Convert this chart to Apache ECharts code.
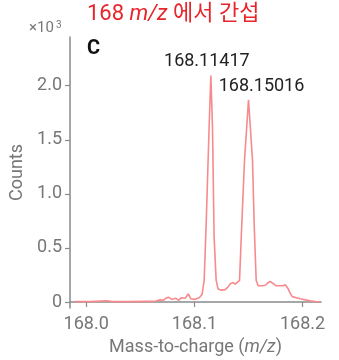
<!DOCTYPE html>
<html><head><meta charset="utf-8">
<script src="https://cdn.jsdelivr.net/npm/echarts@6/dist/echarts.min.js"></script>
<style>html,body{margin:0;padding:0;background:#fff}#c{width:339px;height:360px}</style>
</head><body><div id="c"></div>
<script>
// m/z values and counts (x10^3)
const mz = [167.9895,168.0034,168.0189,168.0238,168.0405,168.0544,168.0562,168.0606,168.0645,168.0682,168.0710,168.0729,168.0759,168.0791,168.0812,168.0831,168.0856,168.0877,168.0895,168.0914,168.0944,168.0967,168.1006,168.1044,168.1071,168.1090,168.1108,168.1136,168.1152,168.1167,168.1182,168.1201,168.1219,168.1247,168.1284,168.1312,168.1331,168.1358,168.1377,168.1395,168.1417,168.1437,168.1463,168.1500,168.1537,168.1553,168.1571,168.1590,168.1627,168.1655,168.1682,168.1701,168.1729,168.1757,168.1794,168.1821,168.1840,168.1868,168.1886,168.1905,168.1942,168.1979,168.2025,168.2071,168.2118,168.2164];
const counts = [0.005,0.004,0.012,0.004,0.004,0.006,0.02,0.006,0.01,0.02,0.015,0.03,0.045,0.025,0.03,0.035,0.016,0.04,0.05,0.035,0.075,0.03,0.025,0.04,0.07,0.2,0.7,1.62,2.095,1.62,0.6,0.2,0.12,0.11,0.115,0.14,0.17,0.18,0.165,0.15,0.2,0.7,1.31,1.87,1.31,0.7,0.2,0.15,0.15,0.155,0.18,0.19,0.17,0.15,0.15,0.15,0.16,0.12,0.08,0.05,0.04,0.03,0.02,0.012,0.005,0.003];
const peakMz = [168.1152, 168.1500];
const peakCounts = [2.095, 1.87];
const peakLabels = ['168.11417', '168.15016'];
const xTicks = [168.0, 168.1, 168.2];
const yTicks = [0, 0.5, 1.0, 1.5, 2.0];

const gray = '#777777';
const font = 'Roboto, "Noto Sans CJK KR", sans-serif';
const chart = echarts.init(document.getElementById('c'), null, {renderer: 'canvas'});
chart.setOption({
  animation: false,
  grid: {left: 70, right: 18, top: 37, bottom: 52, containLabel: false, outerBoundsMode: 'none'},
  graphic: [
    {type: 'text', left: 87, top: 3, style: {
      text: '{a|168 }{i|m/z}{a| 에서 간섭}',
      rich: {
        a: {fontSize: 22, fontFamily: font, fill: '#e8252b', fontWeight: 400},
        i: {fontSize: 22, fontFamily: font, fill: '#e8252b', fontStyle: 'italic'}
      }}},
    {type: 'text', x: 29, y: 36, style: {text: '×10', font: '15px Roboto, sans-serif', fill: gray, textVerticalAlign: 'bottom'}},
    {type: 'text', x: 56, y: 30, style: {text: '3', font: '10px Roboto, sans-serif', fill: gray, textVerticalAlign: 'bottom'}},
    {type: 'text', x: 87, y: 59, style: {text: 'C', font: 'bold 20px Roboto, sans-serif', fill: '#111', textVerticalAlign: 'bottom'}}
  ],
  xAxis: {
    type: 'value', min: 167.985, max: 168.217,
    name: '{a|Mass-to-charge (}{i|m/z}{a|)}', nameLocation: 'middle', nameGap: 27,
    nameTextStyle: {rich: {
      a: {fontSize: 18, fontFamily: font, color: gray},
      i: {fontSize: 18, fontFamily: font, color: gray, fontStyle: 'italic'}}},
    axisLine: {show: true, lineStyle: {color: '#8a8a8a', width: 1.5}},
    axisTick: {show: true, length: 5, customValues: xTicks, lineStyle: {color: '#8a8a8a', width: 1.2}},
    axisLabel: {customValues: xTicks, margin: 8, fontSize: 18, fontFamily: font, color: gray,
      formatter: v => v.toFixed(1)},
    splitLine: {show: false}
  },
  yAxis: {
    type: 'value', min: -0.055, max: 2.45,
    name: 'Counts', nameLocation: 'middle', nameGap: 38,
    nameTextStyle: {fontSize: 18, fontFamily: font, color: gray},
    axisLine: {show: true, lineStyle: {color: '#8a8a8a', width: 1.5}},
    axisTick: {show: true, length: 5, customValues: yTicks, lineStyle: {color: '#8a8a8a', width: 1.2}},
    axisLabel: {customValues: yTicks, margin: 8, fontSize: 18, fontFamily: font, color: gray,
      formatter: v => v === 0 ? '0' : v.toFixed(1)},
    splitLine: {show: false}
  },
  series: [{
    type: 'line', data: mz.map((m, i) => [m, counts[i]]), showSymbol: false, smooth: false,
    lineStyle: {color: '#f68a8d', width: 1.6}, silent: true,
    markPoint: {
      symbol: 'circle', symbolSize: 1, itemStyle: {color: 'rgba(0,0,0,0)'},
      data: peakMz.map((m, i) => ({coord: [m, peakCounts[i]], value: peakLabels[i],
        label: {offset: [i === 0 ? -4 : 13, 0]}})),
      label: {show: true, position: 'top', distance: 4, fontSize: 18, fontFamily: font, color: '#222',
        formatter: p => p.value}
    }
  }]
});
</script></body></html>
